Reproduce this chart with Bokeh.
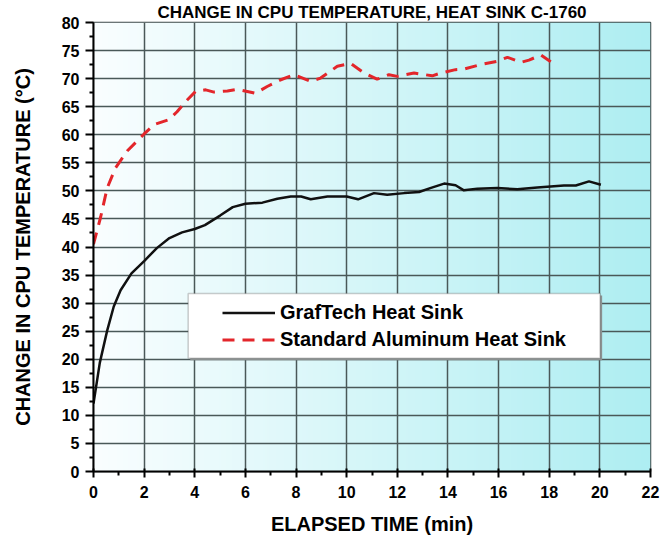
import numpy as np
from bokeh.plotting import figure
from bokeh.models import Range1d, FixedTicker, Legend, LegendItem, BoxAnnotation
from bokeh.embed import file_html
from bokeh.resources import INLINE

title_text = "CHANGE IN CPU TEMPERATURE, HEAT SINK C-1760"
x_label = "ELAPSED TIME (min)"
y_label = "CHANGE IN CPU TEMPERATURE (°C)"
x_ticks = [0, 2, 4, 6, 8, 10, 12, 14, 16, 18, 20, 22]
x_minor = [1, 3, 5, 7, 9, 11, 13, 15, 17, 19, 21]
y_ticks = [0, 5, 10, 15, 20, 25, 30, 35, 40, 45, 50, 55, 60, 65, 70, 75, 80]
y_minor = [2.5, 7.5, 12.5, 17.5, 22.5, 27.5, 32.5, 37.5, 42.5, 47.5, 52.5, 57.5, 62.5, 67.5, 72.5, 77.5]

series_names = ["GrafTech Heat Sink", "Standard Aluminum Heat Sink"]

graftech_time = [0, 0.25, 0.54, 0.8, 1.07, 1.5, 2.0, 2.5, 3.0, 3.5, 4.0, 4.4, 5.0, 5.5, 6.0,
                 6.67, 7.26, 7.79, 8.2, 8.58, 9.24, 10.0, 10.45, 11.08, 11.6, 12.27, 12.86,
                 13.3, 13.85, 14.3, 14.63, 15.16, 15.95, 16.74, 17.53, 18.58, 19.05, 19.57, 20.04]
graftech_temp = [12.1, 19.4, 25.1, 29.4, 32.3, 35.3, 37.5, 39.8, 41.6, 42.6, 43.2, 43.9, 45.6, 47.1, 47.7,
                 47.9, 48.6, 49.0, 49.0, 48.5, 49.0, 49.0, 48.5, 49.6, 49.3, 49.6, 49.8,
                 50.5, 51.3, 51.0, 50.1, 50.4, 50.5, 50.3, 50.6, 50.95, 50.95, 51.7, 51.1]

aluminum_time = [0, 0.28, 0.54, 0.87, 1.33, 1.99, 2.39, 2.98, 3.3, 3.7, 4.03, 4.43, 4.76, 5.29, 5.68,
                 6.4, 6.86, 7.4, 7.92, 8.58, 8.97, 9.63, 10.16, 10.69, 11.2, 11.67, 12.0, 12.66,
                 13.38, 13.72, 14.3, 14.63, 15.3, 15.95, 16.35, 16.88, 17.2, 17.67, 18.06]
aluminum_temp = [40.5, 45.3, 50.5, 54.1, 57.1, 60.1, 61.8, 62.7, 64.1, 66.2, 67.7, 68.0, 67.6, 67.8, 68.1,
                 67.4, 68.6, 69.8, 70.7, 69.5, 70.1, 72.2, 72.7, 71.0, 69.9, 70.7, 70.4, 71.0,
                 70.5, 71.0, 71.6, 71.7, 72.5, 73.1, 73.8, 72.9, 73.3, 74.2, 73.0]

FONT = "Liberation Sans"

p = figure(width=662, height=537, output_backend="svg", toolbar_location=None,
           x_range=Range1d(0, 22), y_range=Range1d(0, 80),
           min_border_left=93, min_border_right=12, min_border_top=0, min_border_bottom=65)
p.background_fill_color = "white"
p.border_fill_color = "white"
p.outline_line_color = "#3c4848"
p.outline_line_width = 1.5

p.title.text = title_text
p.title.align = "center"
p.title.text_font = FONT
p.title.text_font_style = "bold"
p.title.text_font_size = "17px"
p.title.text_color = "black"
p.title.standoff = 1
p.title.offset = 8

# background gradient (white -> cyan, left to right)
n = 256
t = np.linspace(0.0, 1.0, n)
c0 = np.array([250, 254, 255], dtype=float)
c1 = np.array([174, 238, 242], dtype=float)
cols = c0[None, :] * (1 - t[:, None]) + c1[None, :] * t[:, None]
img = np.zeros((1, n), dtype=np.uint32)
view = img.view(dtype=np.uint8).reshape((1, n, 4))
view[0, :, 0] = cols[:, 0].astype(np.uint8)
view[0, :, 1] = cols[:, 1].astype(np.uint8)
view[0, :, 2] = cols[:, 2].astype(np.uint8)
view[0, :, 3] = 255
p.image_rgba(image=[img], x=0, y=0, dw=22, dh=80, level="image")

# grid
for g in (p.xgrid, p.ygrid):
    g.grid_line_color = "#4a5858"
    g.grid_line_width = 1.5
p.xgrid.ticker = FixedTicker(ticks=x_ticks)
p.ygrid.ticker = FixedTicker(ticks=y_ticks)

# axes
p.xaxis.ticker = FixedTicker(ticks=x_ticks, minor_ticks=x_minor)
p.yaxis.ticker = FixedTicker(ticks=y_ticks, minor_ticks=y_minor)
p.xaxis.axis_label = x_label
p.yaxis.axis_label = y_label
for ax in (p.xaxis[0], p.yaxis[0]):
    ax.axis_line_color = "black"
    ax.axis_line_width = 2
    ax.major_tick_line_color = "black"
    ax.major_tick_line_width = 2
    ax.minor_tick_line_color = "black"
    ax.minor_tick_line_width = 2
    ax.minor_tick_in = 0
    ax.minor_tick_out = 4
    ax.major_label_text_font = FONT
    ax.major_label_text_font_style = "bold"
    ax.major_label_text_font_size = "16px"
    ax.major_label_text_color = "black"
    ax.axis_label_text_font = FONT
    ax.axis_label_text_font_style = "bold"
    ax.axis_label_text_font_size = "20px"
    ax.axis_label_text_color = "black"
p.xaxis.major_tick_in = 3
p.xaxis.major_tick_out = 6
p.xaxis.major_label_standoff = 8
p.xaxis.axis_label_standoff = 12
p.yaxis.major_tick_in = 0
p.yaxis.major_tick_out = 8
p.yaxis.major_label_standoff = 6
p.yaxis.axis_label_standoff = 25

r1 = p.line(graftech_time, graftech_temp, line_color="#111111", line_width=2.5)
r2 = p.line(aluminum_time, aluminum_temp, line_color="#e3262b", line_width=3, line_dash="12 8")

# legend box with shadow
shadow = BoxAnnotation(left=3.82, right=20.09, bottom=19.8, top=31.35,
                       fill_color="#8a9090", fill_alpha=1, line_color=None)
box = BoxAnnotation(left=3.74, right=20.01, bottom=20.17, top=31.7,
                    fill_color="white", fill_alpha=1, line_color="#555555", line_width=1.5)
p.add_layout(shadow)
p.add_layout(box)

legend = Legend(items=[LegendItem(label=series_names[0], renderers=[r1]),
                       LegendItem(label=series_names[1], renderers=[r2])],
                location=(129, 118), border_line_color=None, background_fill_alpha=0,
                padding=0, margin=0, spacing=0, glyph_width=53, glyph_height=27,
                label_height=27, label_standoff=5, label_text_font=FONT,
                label_text_font_style="bold", label_text_font_size="20px",
                label_text_color="black")
p.add_layout(legend)

open("out.html", "w").write(file_html(p, INLINE))
